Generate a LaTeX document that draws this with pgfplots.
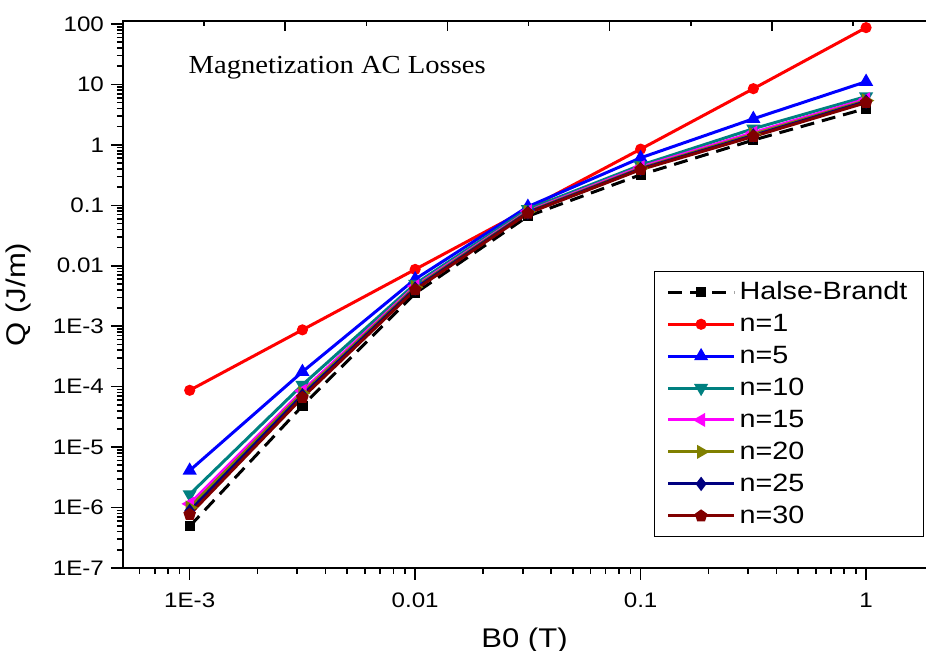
\documentclass[border=0pt]{standalone}
\usepackage{pgfplots}
\pgfplotsset{compat=1.18}
\usepackage{fontspec}
\setmainfont[FakeStretch=1.15]{Liberation Sans}
\newfontfamily\serifttl[FakeStretch=1.1]{Liberation Serif}
\definecolor{cteal}{RGB}{0,128,128}
\definecolor{colive}{RGB}{128,128,0}
\definecolor{cnavy}{RGB}{0,0,128}
\definecolor{cdred}{RGB}{128,0,0}
\definecolor{cmag}{RGB}{255,0,255}
\definecolor{cred}{RGB}{255,0,0}
\definecolor{cblue}{RGB}{0,0,255}
\begin{document}
\begin{tikzpicture}
\begin{axis}[name=ax, scale only axis, width=401.5pt, height=273.5pt,
  xmode=log, ymode=log, xmin=5.06e-4, xmax=1.844, ymin=1e-7, ymax=112,
  axis line style={draw=none},
  /pgf/number format/assume math mode=true,
  xtick={1e-3,0.01,0.1,1}, xticklabels={1E-3,0.01,0.1,1},
  minor xtick={6e-4,7e-4,8e-4,9e-4,2e-3,3e-3,4e-3,5e-3,6e-3,7e-3,8e-3,9e-3,0.02,0.03,0.04,0.05,0.06,0.07,0.08,0.09,0.2,0.3,0.4,0.5,0.6,0.7,0.8,0.9},
  ytick={1e-7,1e-6,1e-5,1e-4,1e-3,0.01,0.1,1,10,100},
  yticklabels={1E-7,1E-6,1E-5,1E-4,1E-3,0.01,0.1,1,10,100},
  minor ytick={2e-7,3e-7,4e-7,5e-7,6e-7,7e-7,8e-7,9e-7,2e-6,3e-6,4e-6,5e-6,6e-6,7e-6,8e-6,9e-6,2e-5,3e-5,4e-5,5e-5,6e-5,7e-5,8e-5,9e-5,2e-4,3e-4,4e-4,5e-4,6e-4,7e-4,8e-4,9e-4,2e-3,3e-3,4e-3,5e-3,6e-3,7e-3,8e-3,9e-3,0.02,0.03,0.04,0.05,0.06,0.07,0.08,0.09,0.2,0.3,0.4,0.5,0.6,0.7,0.8,0.9,2,3,4,5,6,7,8,9,20,30,40,50,60,70,80,90},
  xtick pos=left, ytick pos=left, tick align=outside,
  major tick length=6pt, minor tick length=3pt,
  tick style={black, line width=0.8pt},
  ticklabel style={font=\fontsize{10.5}{12}\selectfont},
  xticklabel style={yshift=-3pt},
  xlabel={B0 (T)}, ylabel={Q (J/m)},
  label style={font=\fontsize{13.5}{15}\selectfont},
  xlabel style={yshift=-3pt},
  ylabel style={yshift=4pt},
  legend cell align=left,
  legend style={at={(rel axis cs:0.9975,0.057)}, anchor=south east, draw=black, line width=0.6pt,
    font=\fontsize{12.5}{14}\selectfont, row sep=1.8pt, inner ysep=3pt, inner xsep=6pt},
  legend image code/.code={\draw[mark repeat=2,mark phase=2,#1] plot coordinates {(0cm,0cm) (0.58cm,0cm) (1.16cm,0cm)};},
  every axis plot/.append style={line width=1.5pt},
]
\addplot[black, dash pattern=on 7pt off 4pt, mark=square*, mark size=1.8pt, mark options={solid}]
 coordinates {(1e-3,4.9e-7)(3.162e-3,4.8e-5)(0.01,3.5e-3)(0.03162,0.066)(0.1,0.32)(0.3162,1.2)(1,4.0)};
\addlegendentry{Halse-Brandt}
\addplot[cred, mark=*, mark size=2pt]
 coordinates {(1e-3,8.7e-5)(3.162e-3,8.7e-4)(0.01,8.7e-3)(0.03162,0.087)(0.1,0.85)(0.3162,8.5)(1,87)};
\addlegendentry{n=1}
\addplot[cblue, mark=triangle*, mark size=2.6pt]
 coordinates {(1e-3,4.1e-6)(3.162e-3,1.76e-4)(0.01,6.0e-3)(0.03162,0.095)(0.1,0.61)(0.3162,2.7)(1,11.1)};
\addlegendentry{n=5}
\addplot[cteal, mark=triangle*, mark size=2.6pt, mark options={rotate=180}]
 coordinates {(1e-3,1.65e-6)(3.162e-3,1.07e-4)(0.01,5.0e-3)(0.03162,0.086)(0.1,0.46)(0.3162,1.85)(1,6.3)};
\addlegendentry{n=10}
\addplot[cmag, mark=triangle*, mark size=2.6pt, mark options={rotate=90}]
 coordinates {(1e-3,1.15e-6)(3.162e-3,8.5e-5)(0.01,4.6e-3)(0.03162,0.080)(0.1,0.43)(0.3162,1.6)(1,5.7)};
\addlegendentry{n=15}
\addplot[colive, mark=triangle*, mark size=2.6pt, mark options={rotate=-90}]
 coordinates {(1e-3,1.0e-6)(3.162e-3,7.8e-5)(0.01,4.4e-3)(0.03162,0.078)(0.1,0.41)(0.3162,1.5)(1,5.4)};
\addlegendentry{n=20}
\addplot[cnavy, mark=diamond*, mark size=2.4pt]
 coordinates {(1e-3,8.8e-7)(3.162e-3,7.2e-5)(0.01,4.2e-3)(0.03162,0.076)(0.1,0.40)(0.3162,1.43)(1,5.2)};
\addlegendentry{n=25}
\addplot[cdred, mark=pentagon*, mark size=2.4pt]
 coordinates {(1e-3,7.7e-7)(3.162e-3,6.6e-5)(0.01,4.0e-3)(0.03162,0.074)(0.1,0.39)(0.3162,1.38)(1,5.0)};
\addlegendentry{n=30}
\node[anchor=west, font=\serifttl\fontsize{13}{15}\selectfont] at (rel axis cs:0.073,0.915) {Magnetization AC Losses};
\end{axis}
\begin{axis}[scale only axis, width=401.5pt, height=273.5pt,
  at={(ax.south west)}, anchor=south west,
  xmin=0, xmax=9.9, ymin=0, ymax=1,
  axis line style={draw=none},
  xtick={2,4,6,8}, minor xtick={1,3,5,7,9}, xticklabels={},
  ytick=\empty, xtick pos=right, tick align=inside,
  major tick length=5pt, minor tick length=2.5pt,
  tick style={black, line width=0.8pt}]
\end{axis}
\draw[line width=1pt] (ax.north east) -- (ax.north west) -- (ax.south west) -- (ax.south east);
\pgfresetboundingbox
\path[use as bounding box] ([shift={(-61.5pt,-41.5pt)}]ax.south west) rectangle ([shift={(0pt,10.5pt)}]ax.north east);
\end{tikzpicture}
\end{document}
